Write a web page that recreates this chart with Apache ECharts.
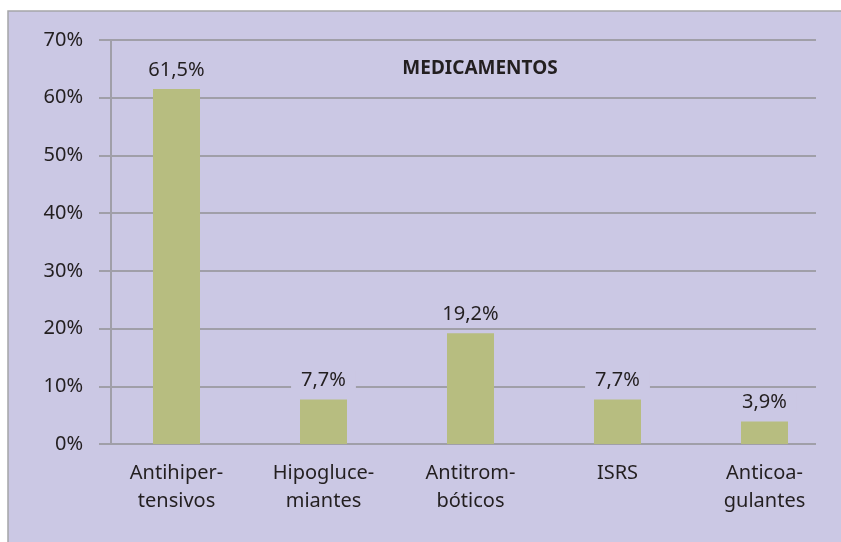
<!DOCTYPE html>
<html>
<head>
<meta charset="utf-8">
<script src="https://cdn.jsdelivr.net/npm/echarts@6/dist/echarts.min.js"></script>
<style>
html,body{margin:0;padding:0;background:#ffffff;}
#chart{width:841px;height:542px;}
</style>
</head>
<body>
<div id="chart"></div>
<script>
const categories = ['Antihiper-\ntensivos', 'Hipogluce-\nmiantes', 'Antitrom-\nbóticos', 'ISRS', 'Anticoa-\ngulantes'];
const values = [61.5, 7.7, 19.2, 7.7, 3.9];
const valueLabels = ['61,5%', '7,7%', '19,2%', '7,7%', '3,9%'];
const yTicks = [0, 10, 20, 30, 40, 50, 60, 70];
const titleText = 'MEDICAMENTOS';

const PANEL = '#cbc8e4';
const GRID = '#a09fa8';
const TEXT = '#231f20';
const FONT = '"Noto Sans", sans-serif';

const chart = echarts.init(document.getElementById('chart'), null, {renderer: 'canvas'});
chart.setOption({
  backgroundColor: '#ffffff',
  animation: false,
  graphic: [{
    type: 'rect', z: -10, silent: true,
    shape: {x: 8, y: 11, width: 850, height: 550},
    style: {fill: PANEL, stroke: '#a5a5a8', lineWidth: 1.5}
  }],
  title: {
    text: titleText, left: 475, top: 54, textAlign: 'center',
    textStyle: {fontFamily: FONT, fontSize: 19, fontWeight: 'bold', color: TEXT}
  },
  grid: [
    {left: 111, right: 25, top: 40, bottom: 98},
    {left: 103, right: 3, top: 40, bottom: 98}
  ],
  xAxis: [
    {gridIndex: 0, type: 'value', show: false, min: 0, max: 1},
    {gridIndex: 1, type: 'category', data: categories,
      axisLine: {show: false}, axisTick: {show: false},
      axisLabel: {fontFamily: FONT, fontSize: 20, color: TEXT, lineHeight: 28, margin: 15, interval: 0}}
  ],
  yAxis: [
    {gridIndex: 0, type: 'value', min: 0, max: 70, interval: 10,
      axisLine: {show: true, lineStyle: {color: GRID, width: 2}},
      axisTick: {show: true, length: 12, inside: false, lineStyle: {color: GRID, width: 2}},
      splitLine: {show: true, lineStyle: {color: GRID, width: 2}},
      axisLabel: {fontFamily: FONT, fontSize: 20, color: TEXT, margin: 28,
        formatter: v => (yTicks.indexOf(v) >= 0 ? v + '%' : '')}},
    {gridIndex: 1, type: 'value', min: 0, max: 70, interval: 10, show: false}
  ],
  series: [{
    type: 'bar', xAxisIndex: 1, yAxisIndex: 1,
    data: values, barWidth: 47,
    itemStyle: {color: '#b7bd80'},
    label: {
      show: true, position: 'top', distance: 9,
      fontFamily: FONT, fontSize: 20, color: TEXT,
      backgroundColor: PANEL, padding: [0, 10],
      formatter: p => valueLabels[p.dataIndex]
    }
  }]
});
</script>
</body>
</html>
